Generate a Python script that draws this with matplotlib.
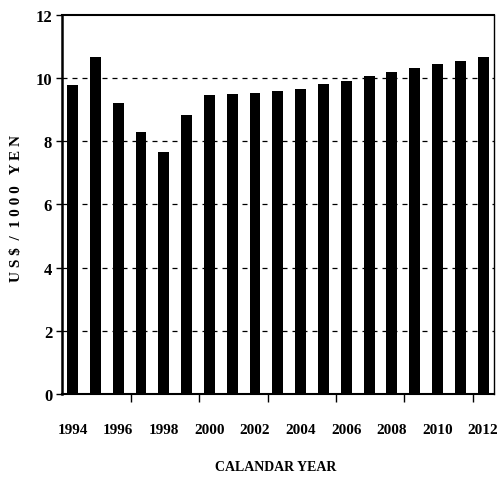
import matplotlib
matplotlib.use("Agg")
import matplotlib.pyplot as plt
import numpy as np

years = [1994, 1995, 1996, 1997, 1998, 1999, 2000, 2001, 2002, 2003,
         2004, 2005, 2006, 2007, 2008, 2009, 2010, 2011, 2012]
values = [9.78, 10.67, 9.22, 8.30, 7.65, 8.83, 9.45, 9.50, 9.54, 9.59,
          9.65, 9.82, 9.91, 10.05, 10.19, 10.32, 10.45, 10.55, 10.67]
xtick_labels = [1994, 1996, 1998, 2000, 2002, 2004, 2006, 2008, 2010, 2012]
yticks = [0, 2, 4, 6, 8, 10, 12]

plt.rcParams['font.family'] = ['Liberation Serif', 'DejaVu Serif']
plt.rcParams['font.weight'] = 'bold'

fig = plt.figure(figsize=(4.99, 4.81), dpi=100)
ax = fig.add_axes([0.124, 0.179, 0.866, 0.788])

ax.bar(years, values, width=0.48, color='black', zorder=3)

ax.set_xlim(1993.53, 2012.48)
ax.set_ylim(0, 12)
ax.set_yticks(yticks)
ax.set_yticklabels([str(v) for v in yticks], fontsize=12, fontweight='bold')
ax.set_xticks(xtick_labels)
ax.set_xticklabels([str(v) for v in xtick_labels], fontsize=11, fontweight='bold')
ax.tick_params(axis='x', which='major', length=0, pad=21)
ax.set_xticks(np.arange(1996.55, 2012, 3), minor=True)
ax.tick_params(axis='x', which='minor', length=6, width=1, direction='out')
ax.tick_params(axis='y', which='major', length=4, width=1, direction='out', pad=3)

for y in [2, 4, 6, 8, 10]:
    ax.axhline(y, color='black', linestyle=(0, (4, 4)), linewidth=0.9, zorder=1)

ax.spines['left'].set_linewidth(1.8)
for s in ['bottom', 'top']:
    ax.spines[s].set_linewidth(1.5)
ax.spines['right'].set_linewidth(1.0)

fig.text(17 / 499, 1 - 209 / 481, 'U S $  /  1 0 0 0   Y E N', rotation=90,
         fontsize=11, fontweight='bold', ha='center', va='center')
fig.text(276 / 499, 1 - 468 / 481, 'CALANDAR YEAR',
         fontsize=10, fontweight='bold', ha='center', va='center')

fig.savefig('out.png', dpi=100)
